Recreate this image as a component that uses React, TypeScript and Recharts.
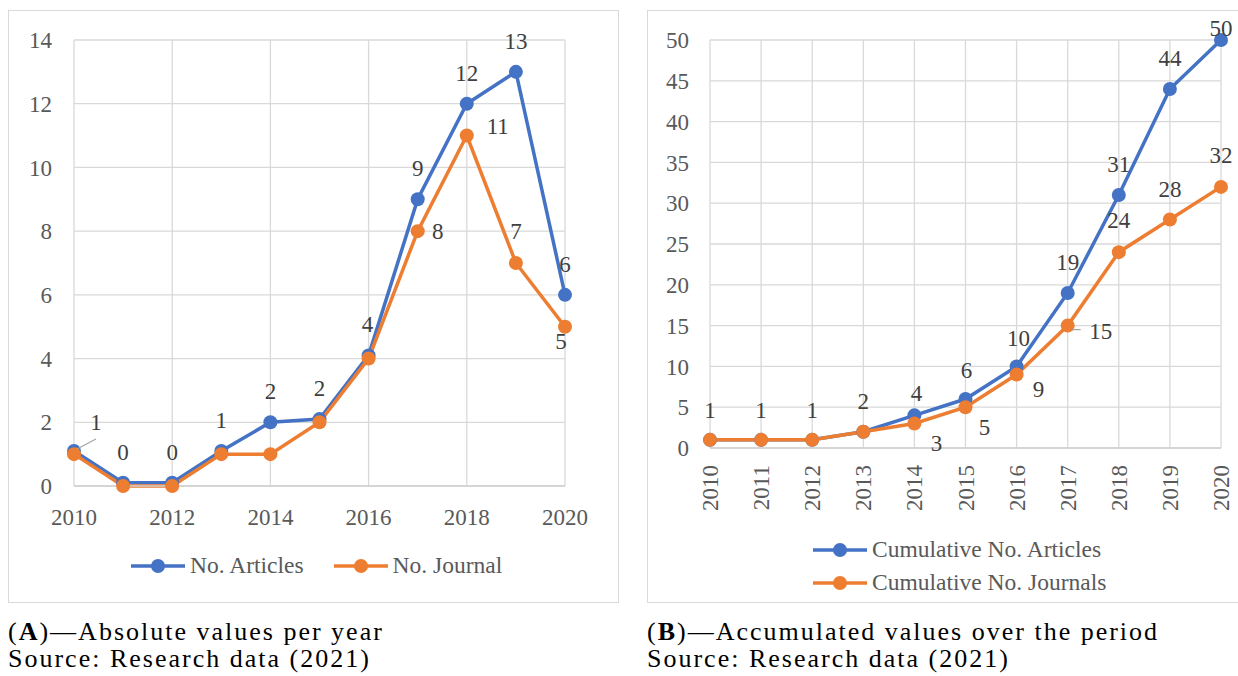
import React from 'react';
import { LineChart, Line, XAxis, YAxis, CartesianGrid, Legend, LabelList } from 'recharts';

const years = [2010, 2011, 2012, 2013, 2014, 2015, 2016, 2017, 2018, 2019, 2020];
// the article line sits a hair above the journal line in the original, labels show whole numbers
const articles = [1.1, 0.1, 0.1, 1.1, 2, 2.1, 4.1, 9, 12, 13, 6];
const journals = [1, 0, 0, 1, 1, 2, 4, 8, 11, 7, 5];
const cumArticles = [1, 1, 1, 2, 4, 6, 10, 19, 31, 44, 50];
const cumJournals = [1, 1, 1, 2, 3, 5, 9, 15, 24, 28, 32];

const leftXTicks = [2010, 2012, 2014, 2016, 2018, 2020];
const leftYTicks = [0, 2, 4, 6, 8, 10, 12, 14];
const rightYTicks = [0, 5, 10, 15, 20, 25, 30, 35, 40, 45, 50];

const BLUE = '#4472C4';
const ORANGE = '#ED7D31';
const GRID = '#d9d9d9';
const FONT = '"Liberation Serif", "Times New Roman", serif';

const leftData = years.map((year, i) => ({ year, articles: articles[i], journals: journals[i] }));
const rightData = years.map((year, i) => ({ year, articles: cumArticles[i], journals: cumJournals[i] }));

// where each data label sits relative to its point (null = label removed in the original)
type Place = { dx: number; dy: number; lead?: number[] } | null;
const up: Place = { dx: 0, dy: -31 };
const leftArticlePlaces: Place[] = [
  { dx: 22, dy: -29, lead: [3, -2, 22, -12] }, up, up, up, up, up, { dx: -1, dy: -31 }, up, up, up, up,
];
const leftJournalPlaces: Place[] = [
  null, null, null, null, null, null, null,
  { dx: 20, dy: 0 }, { dx: 31, dy: -10 }, { dx: 0, dy: -32 }, { dx: -4, dy: 14 },
];
const rightArticlePlaces: Place[] = [
  { dx: 0, dy: -30 }, { dx: 0, dy: -30 }, { dx: 0, dy: -30 }, up,
  { dx: 2, dy: -22 }, { dx: 1, dy: -29 }, { dx: 2, dy: -28 }, up, up, up, { dx: 0, dy: -12 },
];
const rightJournalPlaces: Place[] = [
  null, null, null, null,
  { dx: 22, dy: 19 }, { dx: 19, dy: 20 }, { dx: 22, dy: 14 },
  { dx: 33, dy: 5, lead: [4, 4, 13, 4] },
  { dx: 0, dy: -32 }, { dx: 0, dy: -31 }, { dx: 0, dy: -32 },
];

const placedLabel = (places: Place[]) => (props: any) => {
  const p = places[props.index];
  if (!p) return null;
  const x = props.x ?? props.viewBox?.x;
  const y = props.y ?? props.viewBox?.y;
  if (x == null || y == null) return null;
  return (
    <g>
      {p.lead && (
        <line x1={x + p.lead[0]} y1={y + p.lead[1]} x2={x + p.lead[2]} y2={y + p.lead[3]} stroke="#a6a6a6" strokeWidth={1.3} />
      )}
      <text x={x + p.dx} y={y + p.dy} dy="0.35em" textAnchor="middle" fill="#404040" fontSize={23} fontFamily={FONT}>
        {Math.round(Number(props.value))}
      </text>
    </g>
  );
};

const Mark = ({ color }: { color: string }) => (
  <svg width={54} height={18} style={{ display: 'block' }}>
    <line x1={0} y1={9} x2={54} y2={9} stroke={color} strokeWidth={3.5} />
    <circle cx={27} cy={9} r={7} fill={color} />
  </svg>
);

const legendText: React.CSSProperties = { fontFamily: FONT, fontSize: 23.5, color: '#595959', marginLeft: 5, lineHeight: 1 };

const LeftLegend = () => (
  <div style={{ display: 'flex', alignItems: 'center', height: 34, paddingLeft: 123 }}>
    <Mark color={BLUE} />
    <span style={legendText}>No. Articles</span>
    <span style={{ width: 30 }} />
    <Mark color={ORANGE} />
    <span style={legendText}>No. Journal</span>
  </div>
);

const RightLegend = () => (
  <div style={{ paddingLeft: 166 }}>
    <div style={{ display: 'flex', alignItems: 'center', height: 33 }}>
      <Mark color={BLUE} />
      <span style={legendText}>Cumulative No. Articles</span>
    </div>
    <div style={{ display: 'flex', alignItems: 'center', height: 33 }}>
      <Mark color={ORANGE} />
      <span style={legendText}>Cumulative No. Journals</span>
    </div>
  </div>
);

const RotatedTick = (props: any) => {
  const { x, y, payload } = props;
  return (
    <text x={x} y={y} transform={`rotate(-90, ${x}, ${y})`} textAnchor="end" dy="0.35em" fill="#595959" fontSize={23} fontFamily={FONT}>
      {payload.value}
    </text>
  );
};

const tickStyle = { fill: '#595959', fontSize: 23, fontFamily: FONT };
const dot = (color: string) => ({ r: 7, fill: color, stroke: color, strokeWidth: 0 });

const caption: React.CSSProperties = {
  position: 'absolute', fontFamily: FONT, fontSize: 26, letterSpacing: 2, color: '#000', lineHeight: '24px', whiteSpace: 'nowrap',
};

export default function App() {
  return (
    <div style={{ position: 'absolute', left: 0, top: 0, width: 1238, height: 676, overflow: 'hidden', background: '#fff' }}>
      <div style={{ position: 'absolute', left: 8, top: 10, width: 611, height: 593, border: `1.5px solid ${GRID}`, boxSizing: 'border-box' }} />
      <div style={{ position: 'absolute', left: 647, top: 10, width: 620, height: 593, border: `1.5px solid ${GRID}`, boxSizing: 'border-box' }} />

      <div style={{ position: 'absolute', left: 8, top: 10 }}>
        <LineChart width={611} height={593} data={leftData} margin={{ top: 30, right: 54, left: 0, bottom: 20 }}>
          <CartesianGrid stroke={GRID} strokeWidth={1.3} />
          <XAxis dataKey="year" type="number" domain={[2010, 2020]} ticks={leftXTicks} interval={0} height={63}
            tick={tickStyle} tickLine={false} tickSize={0} tickMargin={23} axisLine={{ stroke: '#d0d0d0', strokeWidth: 1.3 }} />
          <YAxis type="number" domain={[0, 14]} ticks={leftYTicks} interval={0} width={66}
            tick={tickStyle} tickLine={false} tickSize={0} tickMargin={22} axisLine={false} />
          <Legend verticalAlign="bottom" height={34} content={() => <LeftLegend />} />
          <Line type="linear" dataKey="articles" name="No. Articles" stroke={BLUE} strokeWidth={3.5}
            dot={dot(BLUE)} activeDot={false} isAnimationActive={false}>
            <LabelList content={placedLabel(leftArticlePlaces)} />
          </Line>
          <Line type="linear" dataKey="journals" name="No. Journal" stroke={ORANGE} strokeWidth={3.5}
            dot={dot(ORANGE)} activeDot={false} isAnimationActive={false}>
            <LabelList content={placedLabel(leftJournalPlaces)} />
          </Line>
        </LineChart>
      </div>

      <div style={{ position: 'absolute', left: 647, top: 10 }}>
        <LineChart width={600} height={593} data={rightData} margin={{ top: 30, right: 26, left: 0, bottom: 4 }}>
          <CartesianGrid stroke={GRID} strokeWidth={1.3} />
          <XAxis dataKey="year" type="number" domain={[2010, 2020]} ticks={years} interval={0} height={85}
            tick={<RotatedTick />} tickLine={false} tickSize={0} tickMargin={17} axisLine={{ stroke: '#d0d0d0', strokeWidth: 1.3 }} />
          <YAxis type="number" domain={[0, 50]} ticks={rightYTicks} interval={0} width={63}
            tick={tickStyle} tickLine={false} tickSize={0} tickMargin={21} axisLine={false} />
          <Legend verticalAlign="bottom" height={66} content={() => <RightLegend />} />
          <Line type="linear" dataKey="articles" name="Cumulative No. Articles" stroke={BLUE} strokeWidth={3.5}
            dot={dot(BLUE)} activeDot={false} isAnimationActive={false}>
            <LabelList content={placedLabel(rightArticlePlaces)} />
          </Line>
          <Line type="linear" dataKey="journals" name="Cumulative No. Journals" stroke={ORANGE} strokeWidth={3.5}
            dot={dot(ORANGE)} activeDot={false} isAnimationActive={false}>
            <LabelList content={placedLabel(rightJournalPlaces)} />
          </Line>
        </LineChart>
      </div>

      <div style={{ ...caption, left: 8, top: 620 }}>(<b>A</b>)—Absolute values per year</div>
      <div style={{ ...caption, left: 8, top: 647 }}>Source: Research data (2021)</div>
      <div style={{ ...caption, left: 647, top: 620 }}>(<b>B</b>)—Accumulated values over the period</div>
      <div style={{ ...caption, left: 647, top: 647 }}>Source: Research data (2021)</div>
    </div>
  );
}
